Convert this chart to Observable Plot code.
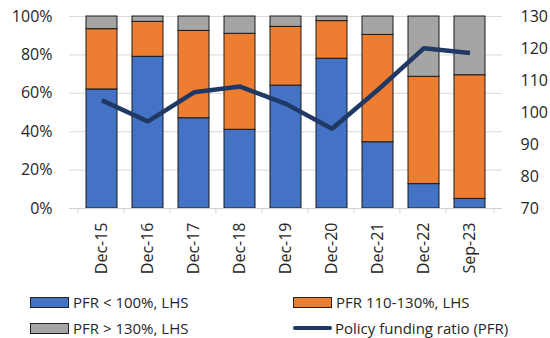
<!DOCTYPE html>
<html><head><meta charset="utf-8">
<script src="https://cdn.jsdelivr.net/npm/d3@7"></script>
<script src="https://cdn.jsdelivr.net/npm/@observablehq/plot@0.6"></script>
<style>
body{margin:0;background:#fff;font-family:"Open Sans",sans-serif;}
#wrap{position:relative;width:550px;height:338px;overflow:hidden;}
.leg{position:absolute;font-size:15px;color:#262626;display:flex;align-items:center;white-space:nowrap;}
.sw{display:inline-block;width:37px;height:9px;border:1px solid #222;margin-right:4px;}
.ln{display:inline-block;width:39px;height:4px;border-radius:2px;background:#1f3864;margin-right:3px;}
</style></head>
<body><div id="wrap"></div>
<script>
const categories = ["Dec-15","Dec-16","Dec-17","Dec-18","Dec-19","Dec-20","Dec-21","Dec-22","Sep-23"];
const below100 = [62, 79, 47, 41, 64, 78, 34.5, 12.7, 5];
const between110_130 = [31.4, 18.2, 45.5, 50, 30.6, 19.6, 55.9, 55.9, 64.4];
const above130 = [6.6, 2.8, 7.5, 9, 5.4, 2.4, 9.6, 31.4, 30.6];
const pfr = [103.8, 97.2, 106.3, 108.1, 102.7, 94.9, 107.1, 120.1, 118.6];
const seriesNames = ["PFR < 100%, LHS", "PFR 110-130%, LHS", "PFR > 130%, LHS"];
const seriesColors = ["#4472C4", "#ED7D31", "#A5A5A5"];
const leftTicks = [0, 20, 40, 60, 80, 100];
const rightTicks = [70, 80, 90, 100, 110, 120, 130];

const rMin = 70, rMax = 130;
const toLeft = v => (v - rMin) / (rMax - rMin) * 100;

const rows = [];
categories.forEach((c, i) => {
  rows.push({cat: c, series: seriesNames[0], value: below100[i]});
  rows.push({cat: c, series: seriesNames[1], value: between110_130[i]});
  rows.push({cat: c, series: seriesNames[2], value: above130[i]});
});
const lineData = categories.map((c, i) => ({cat: c, v: pfr[i]}));

const W = 550, H = 285, mL = 69, mR = 48, mT = 16, mB = 77;
const bw = (W - mL - mR) / categories.length;

const chart = Plot.plot({
  width: W, height: H,
  marginLeft: mL, marginRight: mR, marginTop: mT, marginBottom: mB,
  style: {fontFamily: "Open Sans", fontSize: "16px", color: "#262626", background: "#fff"},
  x: {domain: categories, padding: 0.33, label: null},
  y: {domain: [0, 100], label: null},
  color: {domain: seriesNames, range: seriesColors},
  marks: [
    Plot.ruleY(leftTicks, {stroke: "#d9d9d9", strokeWidth: 1}),
    Plot.barY(rows, {x: "cat", y: "value", fill: "series", stroke: "#1a1a1a", strokeWidth: 1, order: seriesNames}),
    Plot.ruleY([0], {stroke: "#d0d0d0", strokeWidth: 1}),
    Plot.ruleX(categories, {x: d => d, dx: -bw / 2, y1: 0, y2: -2.7, stroke: "#d0d0d0"}),
    Plot.ruleX([categories[categories.length - 1]], {x: d => d, dx: bw / 2, y1: 0, y2: -2.7, stroke: "#d0d0d0"}),
    Plot.line(lineData, {x: "cat", y: d => toLeft(d.v), stroke: "#1f3864", strokeWidth: 4.5, strokeLinejoin: "miter", strokeLinecap: "butt"}),
    Plot.axisY(leftTicks, {anchor: "left", tickSize: 0, tickPadding: 17, tickFormat: d => d + "%", label: null, fontSize: 16}),
    Plot.axisY(rightTicks.map(toLeft), {anchor: "right", tickSize: 0, tickPadding: 18, tickFormat: d => String(Math.round(rMin + d / 100 * (rMax - rMin))), label: null, fontSize: 16}),
    Plot.axisX({tickSize: 0, tickPadding: 14, tickRotate: -90, label: null, fontSize: 16})
  ]
});

const wrap = document.getElementById("wrap");
wrap.appendChild(chart);

const legendItems = [
  {label: seriesNames[0], color: seriesColors[0], left: 30, top: 292, type: "sw"},
  {label: seriesNames[1], color: seriesColors[1], left: 293, top: 292, type: "sw"},
  {label: seriesNames[2], color: seriesColors[2], left: 30, top: 318, type: "sw"},
  {label: "Policy funding ratio (PFR)", color: "#1f3864", left: 293, top: 318, type: "ln"}
];
legendItems.forEach(it => {
  const d = document.createElement("div");
  d.className = "leg";
  d.style.left = it.left + "px";
  d.style.top = it.top + "px";
  const s = document.createElement("span");
  s.className = it.type;
  if (it.type === "sw") s.style.background = it.color;
  d.appendChild(s);
  const t = document.createElement("span");
  t.textContent = it.label;
  d.appendChild(t);
  wrap.appendChild(d);
});
</script></body></html>
